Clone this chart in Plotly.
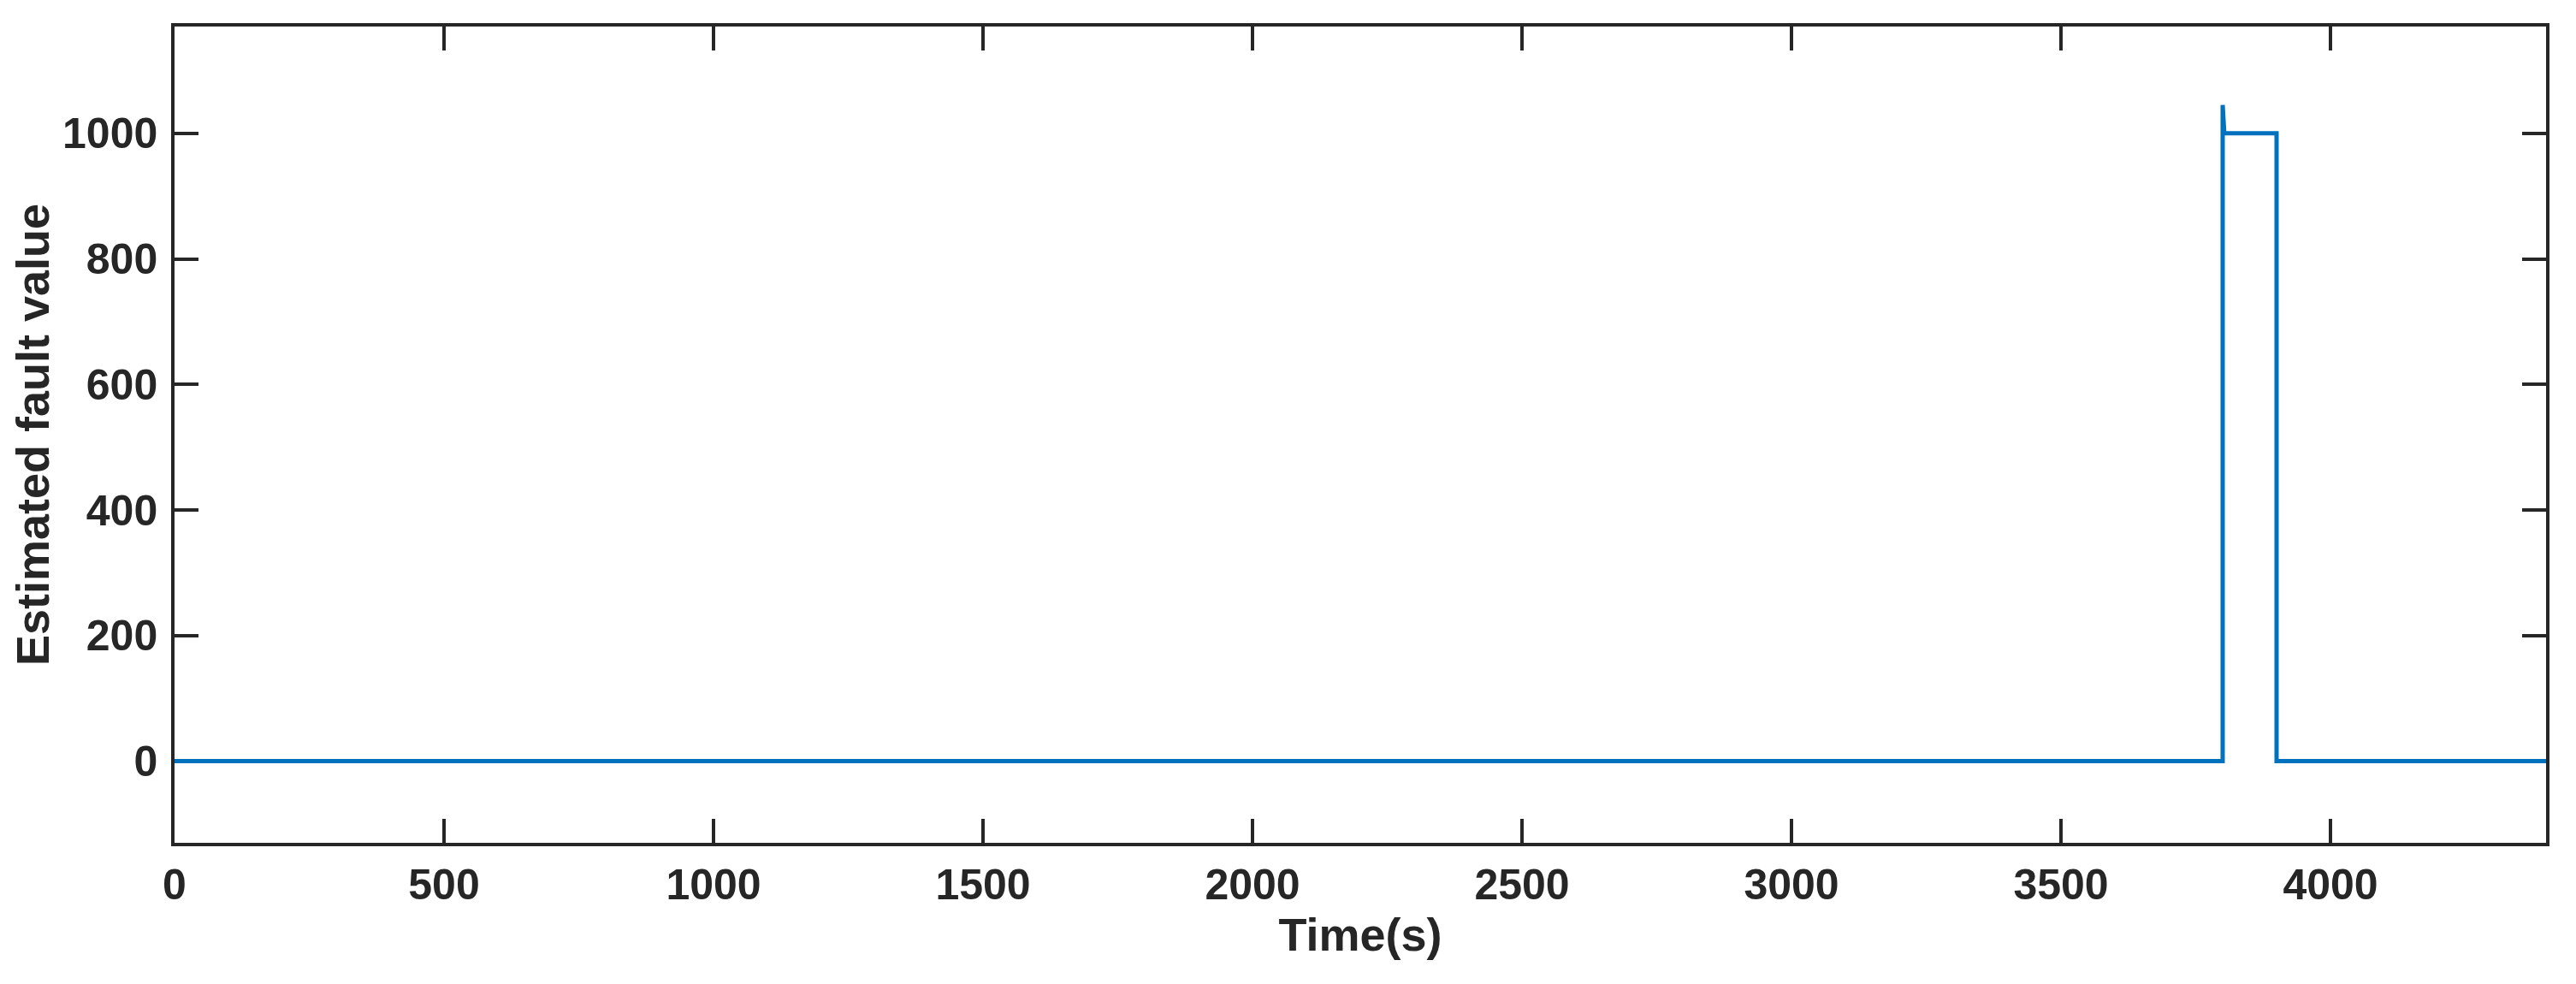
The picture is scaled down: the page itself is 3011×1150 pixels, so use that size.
import plotly.graph_objects as go

# Data
time_s = [0, 3800, 3800, 3803, 3900, 3900, 4400]
fault_value = [0, 0, 1045, 1000, 1000, 0, 0]

x_ticks = [0, 500, 1000, 1500, 2000, 2500, 3000, 3500, 4000]
y_ticks = [0, 200, 400, 600, 800, 1000]

AX = "#262626"
FONT = "Liberation Sans, Arial, Helvetica, sans-serif"

fig = go.Figure()
fig.add_trace(go.Scatter(
    x=time_s, y=fault_value, mode="lines",
    line=dict(color="#0072BD", width=5, shape="linear"),
    showlegend=False,
))

axis_common = dict(
    showgrid=False, zeroline=False, automargin=False, layer="below traces",
    showline=True, linecolor=AX, linewidth=3.5,
    mirror="ticks", ticks="inside", ticklen=28, tickwidth=3.5, tickcolor=AX,
    tickfont=dict(family=FONT, size=50, color=AX, weight="bold"),
)

fig.update_layout(
    width=3003, height=1142,
    margin=dict(l=196, r=35, t=23, b=165),
    paper_bgcolor="white", plot_bgcolor="white",
    font=dict(family=FONT, color=AX),
    xaxis=dict(
        range=[0, 4400], tickvals=x_ticks,
        title=dict(text="<b>Time(s)</b>", font=dict(family=FONT, size=54, color=AX), standoff=13),
        ticklabelstandoff=2,
        **axis_common,
    ),
    yaxis=dict(
        range=[-130, 1170], tickvals=y_ticks,
        title=dict(text="<b>Estimated fault value</b>", font=dict(family=FONT, size=54, color=AX), standoff=16),
        ticklabelstandoff=6,
        **axis_common,
    ),
)

fig.write_html("out.html")
